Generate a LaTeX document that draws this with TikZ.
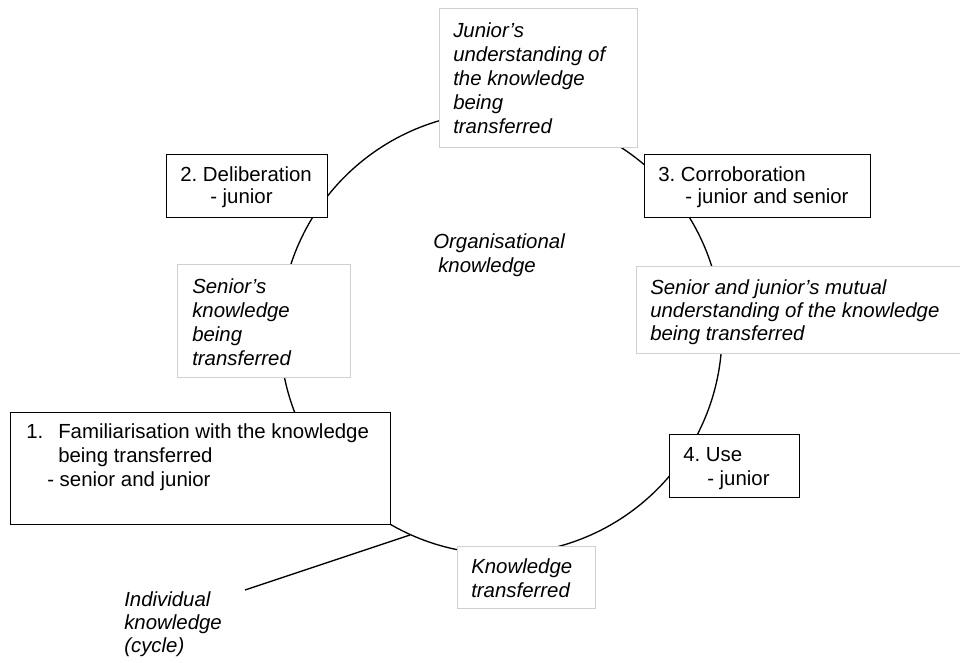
\documentclass[tikz,border=0pt]{standalone}
\usepackage{fontspec}
\setmainfont{Liberation Sans}
\definecolor{notegray}{HTML}{D0D0D0}
\newcommand\lnstrut{\rule{0pt}{14pt}}
\frenchspacing
\begin{document}
\begin{tikzpicture}[x=0.75pt,y=-0.75pt,
  stage/.style={draw=black, line width=1.1pt, fill=white, inner sep=0pt,
    anchor=north west},
  note/.style={draw=notegray, line width=0.75pt, fill=white, inner sep=0pt,
    anchor=north west},
  txt/.style={anchor=north west, inner sep=0pt, align=left,
    font=\fontsize{15.3}{#1}\selectfont},
  txt/.default=18,
  itxt/.style={anchor=north west, inner sep=0pt, align=left,
    font=\fontsize{15.3}{#1}\selectfont\itshape},
  itxt/.default=18,
  cyc/.style={line width=1pt, draw=black}]
% page
\fill[white] (0,0) rectangle (960,663);
\useasboundingbox (0,0) rectangle (960,663);

% the knowledge cycle
\coordinate (c) at (501,333);
\draw[cyc] (c) circle[radius=165.75pt];

% individual knowledge pointer
\coordinate (ik) at (410,535);
\coordinate (ikend) at (245,590);
\draw[cyc] (ik) -- (ikend);

% stage boxes
\node[stage, minimum width=285pt,   minimum height=84pt]    (b1) at (10,412)  {};
\node[stage, minimum width=120.75pt,minimum height=47.25pt] (b2) at (166,154) {};
\node[stage, minimum width=169.5pt, minimum height=47.25pt] (b3) at (644,154) {};
\node[stage, minimum width=97.5pt,  minimum height=47.25pt] (b4) at (669,434) {};

% knowledge boxes
\node[note, minimum width=148.5pt, minimum height=104.25pt] (jr) at (439,8)   {};
\node[note, minimum width=129.75pt,minimum height=84.75pt]  (sr) at (177,264) {};
\node[note, minimum width=244.5pt, minimum height=65.25pt]  (mu) at (636,266) {};
\node[note, minimum width=103.5pt, minimum height=46.5pt]   (kt) at (457,546) {};

% stage texts
\node[txt=18] (b1t) at (26,419.3)
  {\lnstrut 1.\hspace{11.25pt}Familiarisation with the knowledge\\
   \hspace*{24pt}being transferred\\
   \hspace*{15.75pt}- senior and junior};
\node[txt=16.1] (b2t) at (180,163)
  {\lnstrut 2. Deliberation\\ \hspace*{22.5pt}- junior};
\node[txt=16.1] (b3t) at (658,163)
  {\lnstrut 3. Corroboration\\ \hspace*{20.25pt}- junior and senior};
\node[txt=17.5] (b4t) at (683,443)
  {\lnstrut 4. Use\\ \hspace*{18pt}- junior};

% knowledge texts
\node[itxt=18] (jrt) at (453,18.3)
  {\lnstrut Junior’s\\ understanding of\\ the knowledge\\ being\\ transferred};
\node[itxt=18] (srt) at (192,274.7)
  {\lnstrut Senior’s\\ knowledge\\ being\\ transferred};
\node[itxt=17.25] (mut) at (650,275.3)
  {\lnstrut Senior and junior’s mutual\\ understanding of the knowledge\\ being transferred};
\node[itxt=18] (ktt) at (471,554.3)
  {\lnstrut Knowledge\\ transferred};
\node[itxt=18] (org) at (433,229.3)
  {\lnstrut Organisational\\ \hspace*{3.75pt}knowledge};
\node[itxt=17.25] (ind) at (124,588)
  {\lnstrut Individual\\ knowledge\\ (cycle)};
\end{tikzpicture}
\end{document}
